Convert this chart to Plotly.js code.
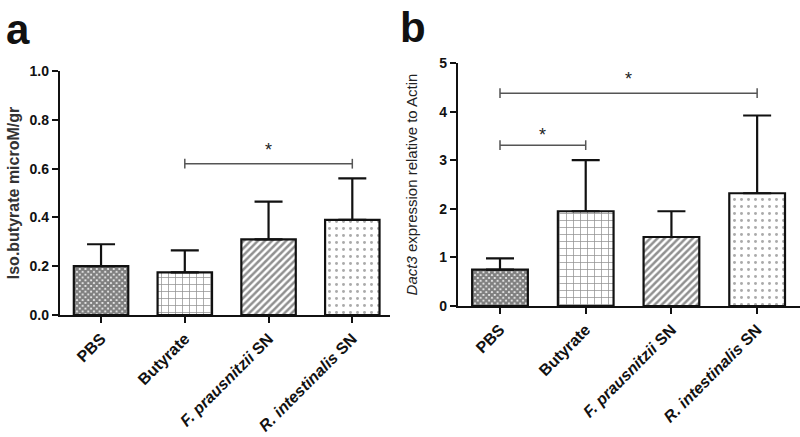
<!DOCTYPE html>
<html>
<head>
<meta charset="utf-8">
<script src="https://cdn.plot.ly/plotly-3.0.1.min.js"></script>
<style>html,body{margin:0;padding:0;background:#fff;}#chart{width:800px;height:437px;}</style>
</head>
<body>
<div id="chart"></div>
<script>
// ---- data ----
const categories = ["PBS", "Butyrate", "F. prausnitzii SN", "R. intestinalis SN"];
const tickLabels = ["<b>PBS</b>", "<b>Butyrate</b>", "<b><i>F. prausnitzii</i> SN</b>", "<b><i>R. intestinalis</i> SN</b>"];
const isoValues = [0.20, 0.175, 0.31, 0.39];
const isoErrors = [0.09, 0.09, 0.155, 0.17];
const dactValues = [0.75, 1.95, 1.42, 2.32];
const dactErrors = [0.23, 1.05, 0.53, 1.60];
const isoTicks = [0, 0.2, 0.4, 0.6, 0.8, 1.0];
const dactTicks = [0, 1, 2, 3, 4, 5];
// significance: [from index, to index, y level, star y]
const isoSig = [[1, 3, 0.62, 0.675]];
const dactSig = [[0, 1, 3.31, 3.52], [0, 3, 4.38, 4.68]];

const patterns = [
  {shape: "x", size: 4, solidity: 0.8, fgcolor: "#000", bgcolor: "#fff"},
  {shape: "+", size: 7, solidity: 0.2, fgcolor: "#222", bgcolor: "#fff"},
  {shape: "/", size: 5, solidity: 0.5, fgcolor: "#222", bgcolor: "#fff"},
  {shape: ".", size: 7, solidity: 0.14, fgcolor: "#555", bgcolor: "#fff"}
];

const idx = categories.map((c, i) => i);
const zeros = categories.map(() => 0);

function barTrace(vals, errs, xa, ya) {
  return {
    type: "bar", x: idx, y: vals, xaxis: xa, yaxis: ya,
    width: 0.65,
    marker: {color: "#fff", line: {color: "#111", width: 2.2},
      pattern: {shape: patterns.map(p => p.shape), size: patterns.map(p => p.size),
        solidity: patterns.map(p => p.solidity), fgcolor: patterns.map(p => p.fgcolor),
        bgcolor: patterns.map(p => p.bgcolor), fillmode: "overlay"}},
    error_y: {type: "data", symmetric: false, array: errs, arrayminus: zeros,
      color: "#111", thickness: 2.2, width: 14},
    hoverinfo: "skip"
  };
}

const traces = [
  barTrace(isoValues, isoErrors, "x", "y"),
  barTrace(dactValues, dactErrors, "x2", "y2")
];

const shapes = [];
const annotations = [];
function addSig(list, xr, yr, tick) {
  list.forEach(s => {
    const lc = {color: "#555", width: 1.5};
    shapes.push({type: "line", xref: xr, yref: yr, x0: s[0], x1: s[1], y0: s[2], y1: s[2], line: lc});
    shapes.push({type: "line", xref: xr, yref: yr, x0: s[0], x1: s[0], y0: s[2] - tick, y1: s[2] + tick, line: lc});
    shapes.push({type: "line", xref: xr, yref: yr, x0: s[1], x1: s[1], y0: s[2] - tick, y1: s[2] + tick, line: lc});
    annotations.push({xref: xr, yref: yr, x: (s[0] + s[1]) / 2, y: s[3], text: "*", showarrow: false,
      font: {family: "Liberation Sans, Arial", size: 18, color: "#222"}});
  });
}
addSig(isoSig, "x", "y", 0.02);
addSig(dactSig, "x2", "y2", 0.1);

annotations.push({xref: "paper", yref: "paper", x: 0.005, y: 0.99, xanchor: "left", yanchor: "top",
  text: "<b>a</b>", showarrow: false, font: {family: "Liberation Sans, Arial", size: 42, color: "#111"}});
annotations.push({xref: "paper", yref: "paper", x: 0.497, y: 0.995, xanchor: "left", yanchor: "top",
  text: "<b>b</b>", showarrow: false, font: {family: "Liberation Sans, Arial", size: 42, color: "#111"}});

const xTickFont = {family: "Liberation Sans, Arial", size: 16, color: "#111", weight: "bold"};
const yTickFont = {family: "Liberation Sans, Arial", size: 14, color: "#111", weight: "bold"};
const commonX = {
  tickmode: "array", tickvals: idx, ticktext: tickLabels, tickangle: -45,
  showline: true, linecolor: "#111", linewidth: 2.2, ticks: "outside", ticklen: 6, tickwidth: 2,
  tickcolor: "#111", showgrid: false, zeroline: false, tickfont: xTickFont, fixedrange: true
};
const commonY = {
  showline: true, linecolor: "#111", linewidth: 2.2, ticks: "outside", ticklen: 6, tickwidth: 2,
  tickcolor: "#111", showgrid: false, zeroline: false, tickfont: yTickFont, fixedrange: true,
  tickmode: "array"
};

const layout = {
  width: 800, height: 437,
  margin: {l: 0, r: 0, t: 0, b: 0},
  paper_bgcolor: "#fff", plot_bgcolor: "rgba(0,0,0,0)",
  showlegend: false, hovermode: false,
  font: {family: "Liberation Sans, Arial", color: "#111"},
  xaxis: Object.assign({}, commonX, {domain: [60 / 800, 390 / 800], range: [-0.49, 3.45], anchor: "y"}),
  yaxis: Object.assign({}, commonY, {domain: [1 - 315 / 437, 1 - 71 / 437], range: [0, 1], anchor: "x",
    tickvals: isoTicks, ticktext: isoTicks.map(v => v.toFixed(1)),
    title: {text: "Iso.butyrate microM/gr", standoff: 6,
      font: {family: "Liberation Sans, Arial", size: 16, color: "#333", weight: "bold"}}}),
  xaxis2: Object.assign({}, commonX, {domain: [458 / 800, 1.0], range: [-0.49, 3.5], anchor: "y2"}),
  yaxis2: Object.assign({}, commonY, {domain: [1 - 306 / 437, 1 - 63 / 437], range: [0, 5], anchor: "x2",
    tickvals: dactTicks, ticktext: dactTicks.map(v => String(v)),
    title: {text: "<i>Dact3</i> expression relative to Actin", standoff: 18,
      font: {family: "Liberation Sans, Arial", size: 15, color: "#222"}}}),
  shapes: shapes,
  annotations: annotations
};

Plotly.newPlot("chart", traces, layout, {displayModeBar: false, staticPlot: true});
</script>
</body>
</html>
